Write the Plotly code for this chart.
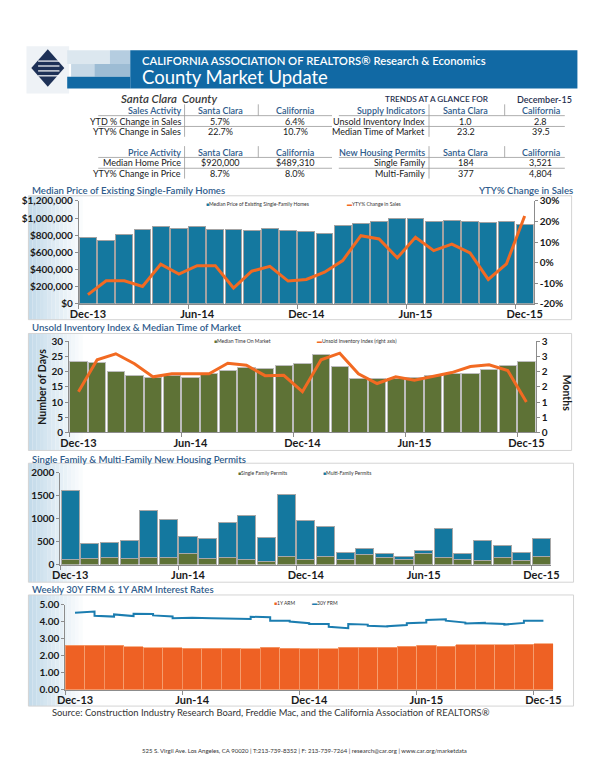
import plotly.graph_objects as go

# ---------------- data ----------------
months = ["Dec-13", "Jan-14", "Feb-14", "Mar-14", "Apr-14", "May-14", "Jun-14", "Jul-14",
          "Aug-14", "Sep-14", "Oct-14", "Nov-14", "Dec-14", "Jan-15", "Feb-15", "Mar-15",
          "Apr-15", "May-15", "Jun-15", "Jul-15", "Aug-15", "Sep-15", "Oct-15", "Nov-15", "Dec-15"]

median_price = [774000, 736000, 805000, 866000, 905000, 882000, 905000, 863000, 866000,
                851000, 874000, 851000, 843000, 817000, 912000, 932000, 958000, 993000,
                993000, 962000, 974000, 955000, 952000, 966000, 920000]
yty_sales = [-15.6, -8.9, -8.9, -11.6, -0.8, -5.6, -1.5, -1.5, -12.4, -4.2, -1.8, -9.0,
             -8.2, -4.7, 1.0, 13.1, 11.5, 2.3, 12.3, 5.8, 9.0, 4.7, -8.2, -0.6, 22.7]

days_on_market = [23.4, 22.9, 20.0, 18.7, 18.2, 18.7, 18.1, 19.3, 20.4, 21.3, 21.0, 22.0,
                  22.8, 25.7, 21.6, 17.9, 17.6, 17.9, 18.1, 18.9, 19.3, 19.3, 20.8, 22.2, 23.2]
unsold_index = [1.34, 2.39, 2.59, 2.26, 1.83, 1.93, 1.93, 1.93, 2.28, 2.21, 1.87, 1.88,
                1.34, 2.39, 2.61, 1.93, 1.61, 1.83, 1.72, 1.85, 1.97, 2.17, 2.23, 2.04, 1.0]
months_ticktext = ["0", "1", "1", "2", "2", "3", "3"]
months_tickvals = [0, 0.5, 1, 1.5, 2, 2.5, 3]

sf_permits = [107, 129, 143, 136, 157, 157, 236, 129, 143, 114, 64, 179, 107, 164, 100,
              214, 150, 100, 236, 143, 107, 93, 143, 86, 184]
mf_permits = [1507, 321, 343, 392, 1014, 821, 364, 442, 771, 957, 529, 1349, 843, 671, 171,
              143, 86, 78, 64, 635, 143, 428, 278, 178, 377]

arm_1y = [2.60, 2.60, 2.60, 2.52, 2.46, 2.46, 2.42, 2.42, 2.42, 2.40, 2.48, 2.44, 2.40,
          2.40, 2.48, 2.48, 2.50, 2.54, 2.62, 2.56, 2.65, 2.65, 2.65, 2.67, 2.71]
# 30Y FRM: value at the start and at the end of each monthly stretch
frm_start = [4.52, 4.34, 4.42, 4.46, 4.36, 4.19, 4.23, 4.19, 4.15, 4.28, 4.04, 4.00,
             3.86, 3.69, 3.86, 3.75, 3.73, 3.90, 4.09, 4.05, 3.88, 3.90, 3.82, 4.04]
frm_end = [4.59, 4.29, 4.32, 4.44, 4.30, 4.21, 4.19, 4.15, 4.15, 4.25, 4.04, 3.90,
           3.86, 3.61, 3.82, 3.71, 3.80, 3.94, 4.13, 3.94, 3.92, 3.86, 3.92, 4.04]

sales_tbl = [["Sales Activity", "Santa Clara", "California"],
             ["YTD % Change in Sales", "5.7%", "6.4%"],
             ["YTY% Change in Sales", "22.7%", "10.7%"]]
price_tbl = [["Price Activity", "Santa Clara", "California"],
             ["Median Home Price", "$920,000", "$489,310"],
             ["YTY% Change in Price", "8.7%", "8.0%"]]
supply_tbl = [["Supply Indicators", "Santa Clara", "California"],
              ["Unsold Inventory Index", "1.0", "2.8"],
              ["Median Time of Market", "23.2", "39.5"]]
permit_tbl = [["New Housing Permits", "Santa Clara", "California"],
              ["Single Family", "184", "3,521"],
              ["Multi-Family", "377", "4,804"]]

# ---------------- style ----------------
W, H = 600, 776
FONT = "Lato"
BLUE = "#14789F"
ORANGE = "#F26A22"
GREEN = "#5E7236"
TITLE_C = "#2F5C8C"
TXT = "#1A1A1A"
HDR = "#1169A4"


def X(p):
    return p / W


def Y(p):
    return 1 - p / H


idx = list(range(len(months)))
tick_idx = idx[::6]
tick_txt = [months[i] for i in tick_idx]
minor_ticks = [i - 0.5 for i in tick_idx]

fig = go.Figure()

# chart 1
fig.add_trace(go.Bar(x=idx, y=median_price, width=0.93, name="Median Price of Existing Single-Family Homes",
                     marker=dict(color=BLUE, line=dict(color="#A3A3A3", width=1)),
                     xaxis="x", yaxis="y", showlegend=False))
fig.add_trace(go.Scatter(x=idx, y=yty_sales, mode="lines", name="YTY% Change in Sales",
                         line=dict(color=ORANGE, width=3), xaxis="x", yaxis="y2", showlegend=False))
# chart 2
fig.add_trace(go.Bar(x=idx, y=days_on_market, width=0.93, name="Median Time On Market",
                     marker=dict(color=GREEN, line=dict(color="#BDBDBD", width=1)),
                     xaxis="x2", yaxis="y3", showlegend=False))
fig.add_trace(go.Scatter(x=idx, y=unsold_index, mode="lines", name="Unsold Inventory Index (right axis)",
                         line=dict(color=ORANGE, width=3), xaxis="x2", yaxis="y4", showlegend=False))
# chart 3
fig.add_trace(go.Bar(x=idx, y=sf_permits, width=0.92, name="Single Family Permits",
                     marker=dict(color=GREEN, line=dict(color="#A8A8A8", width=1)),
                     xaxis="x3", yaxis="y5", showlegend=False))
fig.add_trace(go.Bar(x=idx, y=mf_permits, width=0.92, name="Multi-Family Permits",
                     marker=dict(color=BLUE, line=dict(color="#A8A8A8", width=1)),
                     xaxis="x3", yaxis="y5", showlegend=False))
# chart 4
fig.add_trace(go.Bar(x=idx, y=arm_1y, width=1.0, name="1Y ARM",
                     marker=dict(color="#EE6124", line=dict(color="#F5A070", width=0.8)),
                     xaxis="x4", yaxis="y6", showlegend=False))
frm_x, frm_y = [], []
for i, (a, b) in enumerate(zip(frm_start, frm_end)):
    frm_x += [idx[i], idx[i + 1]]
    frm_y += [a, b]
fig.add_trace(go.Scatter(x=frm_x, y=frm_y, mode="lines", name="30Y FRM",
                         line=dict(color="#1B7DB0", width=2), xaxis="x4", yaxis="y6", showlegend=False))

tickf = dict(family=FONT, size=10, color=TXT, weight="bold")
xtickf = dict(family=FONT, size=11, color=TXT, weight="bold")


def xax(d0, d1, anchor):
    return dict(domain=[X(d0), X(d1)], anchor=anchor, range=[-0.5, 24.5],
                tickvals=tick_idx, ticktext=tick_txt, ticks="", showline=True,
                linecolor="#8C8C8C", linewidth=1, showgrid=False, zeroline=False,
                tickfont=xtickf, minor=dict(tickvals=minor_ticks, ticks="outside",
                                            ticklen=4, tickcolor="#8C8C8C"))


def yax(top, bottom, anchor, **kw):
    d = dict(domain=[Y(bottom), Y(top)], anchor=anchor, showline=True, linecolor="#8C8C8C",
             linewidth=1, ticks="outside", ticklen=3, tickcolor="#8C8C8C", showgrid=False,
             zeroline=False, tickfont=tickf)
    d.update(kw)
    return d


shapes = []
annotations = []


def rect(x0, y0, x1, y1, fill, line=None, lw=0, layer="below"):
    shapes.append(dict(type="rect", xref="paper", yref="paper", x0=X(x0), x1=X(x1), y0=Y(y1), y1=Y(y0),
                       fillcolor=fill, line=dict(color=line or fill, width=lw), layer=layer))


def hline(x0, x1, y, color="#9A9A9A", w=0.8):
    shapes.append(dict(type="line", xref="paper", yref="paper", x0=X(x0), x1=X(x1), y0=Y(y), y1=Y(y),
                       line=dict(color=color, width=w)))


def vline(x, y0, y1, color="#9A9A9A", w=0.8):
    shapes.append(dict(type="line", xref="paper", yref="paper", x0=X(x), x1=X(x), y0=Y(y0), y1=Y(y1),
                       line=dict(color=color, width=w)))


def text(x, y, s, size=9, color=TXT, xanchor="left", weight="normal", style="normal", angle=0):
    annotations.append(dict(x=X(x), y=Y(y), xref="paper", yref="paper", text=s, showarrow=False,
                            xanchor=xanchor, yanchor="middle", textangle=angle,
                            font=dict(family=FONT, size=size, color=color, weight=weight, style=style)))


# ---------------- header ----------------
rect(18, 40, 62, 88, "#EEF2F6")
shapes.append(dict(type="path", xref="paper", yref="paper",
                   path=f"M{X(40)},{Y(43)} L{X(57)},{Y(62)} L{X(40)},{Y(81)} L{X(23)},{Y(62)} Z",
                   fillcolor="#1E3157", line=dict(color="#1E3157", width=0)))
for yy in (55, 60, 65, 70):
    hline(30, 52, yy, color="#FFFFFF", w=1.2)
rect(60, 44, 104, 58, "#DCE7EF")
rect(104, 44, 125, 58, "#B5CDE0")
rect(64, 58, 88, 71, "#C6D8E6")
rect(88, 58, 125, 71, "#9DBCD4")
rect(125, 44, 586, 83, HDR)
rect(60, 71, 125, 83, HDR)
text(135, 54, "CALIFORNIA ASSOCIATION OF REALTORS® Research &amp; Economics", size=11.3,
     color="white", weight=600)
text(135, 71, "County Market Update", size=18.5, color="white")
text(113, 93, "Santa Clara  County", size=11.5, color="#3A3A3A", style="italic", weight=600)
text(386, 94, "TRENDS AT A GLANCE FOR", size=8.2, color="#1F2F4F", weight=600)
text(522, 94, "December-15", size=9, color="#1F2F4F", weight=600)


# ---------------- tables ----------------
def draw_table(rows, top, lab_r, c1, c2, sep1, sep2, x0, x1):
    ys = [top, top + 11, top + 21.5]
    for r, row in enumerate(rows):
        col = TITLE_C if r == 0 else TXT
        text(lab_r, ys[r], row[0], size=9, color=col, xanchor="right", weight=600 if r == 0 else "normal")
        text(c1, ys[r], row[1], size=9, color=col, xanchor="center", weight=600 if r == 0 else "normal")
        text(c2, ys[r], row[2], size=9, color=col, xanchor="center", weight=600 if r == 0 else "normal")
    hline(x0, x1, top + 5.5)
    hline(x0, x1, top + 16.5)
    vline(sep1, top - 6, top + 27)
    vline(sep2, top - 6, top + 5.5)


draw_table(sales_tbl, 105, 179, 218, 295, 181, 257, 92, 333)
draw_table(price_tbl, 147.5, 179, 218, 295, 181, 257, 92, 333)
draw_table(supply_tbl, 105, 431, 471, 548, 433, 511, 340, 573)
draw_table(permit_tbl, 147.5, 431, 471, 548, 433, 511, 340, 573)


# ---------------- chart frames ----------------
def frame(y0, y1, x1=580):
    n = 14
    for k in range(n):
        t = k / n
        c = tuple(int(a + (255 - a) * t) for a in (196, 219, 234))
        rect(20 + k * 4, y0, 20 + (k + 1) * 4, y1, "rgb(%d,%d,%d)" % c)
    shapes.append(dict(type="rect", xref="paper", yref="paper", x0=X(20), x1=X(x1), y0=Y(y1), y1=Y(y0),
                       line=dict(color="#D4D4D4", width=1), fillcolor="rgba(0,0,0,0)", layer="below"))


frame(192, 318)
frame(332, 451)
frame(464, 585, 582)
frame(598, 711, 582)

# chart titles
text(22, 187, "Median Price of Existing Single-Family Homes", size=9.6, color=TITLE_C, weight=600)
text(583, 187, "YTY% Change in Sales", size=9.6, color=TITLE_C, weight=600, xanchor="right")
text(22, 326, "Unsold Inventory Index &amp; Median Time of Market", size=9.6, color=TITLE_C, weight=600)
text(22, 460, "Single Family &amp; Multi-Family New Housing Permits", size=9.6, color=TITLE_C, weight=600)
text(22, 592, "Weekly 30Y FRM &amp; 1Y ARM Interest Rates", size=9.6, color=TITLE_C, weight=600)


# legends (small in-plot keys)
def key(x, y, color, label, line=False):
    glyph = "▬" if line else "■"
    text(x, y, f'<span style="color:{color}">{glyph}</span>{label}', size=5, color="#333333")


key(201, 200, BLUE, "Median Price of Existing Single-Family Homes")
key(346, 200, ORANGE, "YTY% Change in Sales", line=True)
key(209, 340, GREEN, "Median Time On Market")
key(315, 340, ORANGE, "Unsold Inventory Index (right axis)", line=True)
key(234, 474, GREEN, "Single Family Permits")
key(322, 474, BLUE, "Multi-Family Permits")
key(271, 606, "#EE6124", "1Y ARM")
key(310, 606, "#1B7DB0", "30Y FRM", line=True)

text(575, 392, "Months", size=10.5, weight="bold", xanchor="center", angle=90)

# footer
text(42, 718, "Source: Construction Industry Research Board, Freddie Mac, and the California Association of REALTORS®",
     size=9.4, color="#333333")
text(305, 756.5, "525 S. Virgil Ave. Los Angeles, CA 90020 | T:213-739-8352 | F: 213-739-7264 | research@car.org | www.car.org/marketdata",
     size=6, color="#333333", xanchor="center")

sales_ticks = list(range(-20, 31, 10))

fig.update_layout(
    width=W, height=H, margin=dict(l=0, r=0, t=0, b=0),
    paper_bgcolor="white", plot_bgcolor="rgba(0,0,0,0)",
    barmode="stack", showlegend=False,
    font=dict(family=FONT, color=TXT),
    xaxis=xax(72, 541, "y"),
    yaxis=yax(197.3, 301.7, "x", range=[0, 1200000], dtick=200000, tickprefix="$", tickformat=","),
    yaxis2=yax(197.3, 301.7, "x", overlaying="y", side="right", range=[-20, 30],
               tickvals=sales_ticks, ticktext=[f"{v}%" for v in sales_ticks]),
    xaxis2=xax(62, 543, "y3"),
    yaxis3=yax(340, 432.7, "x2", range=[0, 30], dtick=5,
               title=dict(text="Number of Days", font=dict(family=FONT, size=10.5, weight="bold", color=TXT),
                          standoff=2)),
    yaxis4=yax(340, 432.7, "x2", overlaying="y3", side="right", range=[0, 3],
               tickvals=months_tickvals, ticktext=months_ticktext),
    xaxis3=xax(53, 559, "y5"),
    yaxis5=yax(473.7, 567, "x3", range=[0, 2000], dtick=500, tickformat="d"),
    xaxis4=xax(58, 561, "y6"),
    yaxis6=yax(607.7, 694.3, "x4", range=[0, 5], dtick=1, tickformat=".2f"),
    shapes=shapes, annotations=annotations,
)

page_css = ("var s=document.createElement('style');"
            "s.textContent='html,body{margin:0;padding:0;overflow:hidden;}';"
            "document.head.appendChild(s);")
fig.write_html("out.html", config={"displayModeBar": False}, post_script=page_css)
